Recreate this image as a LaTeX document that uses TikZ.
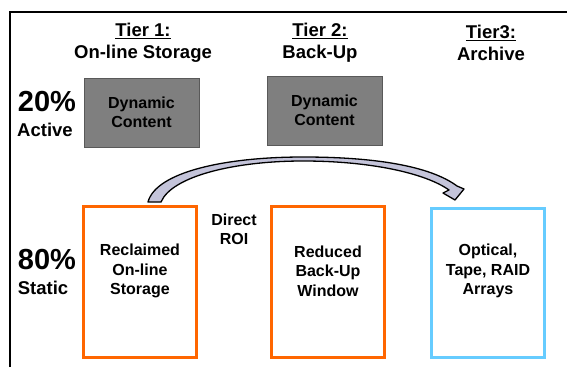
\documentclass[tikz,border=0pt]{standalone}
\usepackage{fontspec}
\setmainfont{Liberation Sans}
\usetikzlibrary{positioning}
\definecolor{dyngray}{HTML}{7F7F7F}
\definecolor{dynedge}{HTML}{595959}
\definecolor{statorange}{HTML}{FF6600}
\definecolor{archblue}{HTML}{66CCFF}
\definecolor{roifill}{HTML}{C4C4DA}
\begin{document}
\begin{tikzpicture}[x=1pt,y=-1pt,
        tierlbl/.style={font=\bfseries\fontsize{18.5}{22}\selectfont,align=center},
        pctlbl/.style={font=\bfseries\fontsize{29}{30}\selectfont},
        kindlbl/.style={font=\bfseries\fontsize{18.5}{20}\selectfont},
        boxlbl/.style={font=\bfseries\fontsize{16}{19.5}\selectfont,align=center},
        dynbox/.style={draw=dynedge,fill=dyngray,line width=1pt,minimum width=115,minimum height=69,inner sep=0pt},
        statbox/.style={draw=statorange,line width=3pt,minimum width=113,minimum height=151,inner sep=0pt},
        archbox/.style={draw=archblue,line width=3pt,minimum width=113,minimum height=149,inner sep=0pt}]

        \useasboundingbox (0,0) rectangle (567,367);
        \draw[line width=1.6pt] (10,367) -- (10,12) -- (567,12);

        \node[tierlbl] (tier1) at (143,43) {\underline{Tier 1:}\\On-line Storage};
        \node[tierlbl] (tier2) at (320,43) {\underline{Tier 2:}\\Back-Up};
        \node[tierlbl] (tier3) at (491,43) {\underline{Tier3:}\\Archive};

        \node[pctlbl] (act) at (47,102) {20\%};
        \node[kindlbl] (actlbl) at (45,130) {Active};
        \node[pctlbl] (stat) at (47,260) {80\%};
        \node[kindlbl] (statlbl) at (43,288) {Static};

        \node[dynbox] (dyn1) at (141.5,112.5) {};
        \node[dynbox] (dyn2) at (324.5,110.5) {};
        \node[boxlbl] (dyn1txt) at (dyn1.center) {Dynamic\\Content};
        \node[boxlbl] (dyn2txt) at (dyn2.center) {Dynamic\\Content};

        \node[statbox] (recl) at (140,282) {};
        \node[statbox] (redu) at (328,282) {};
        \node[archbox] (arch) at (488,283) {};
        \node[boxlbl] (recltxt) at (140,271) {Reclaimed\\On-line\\Storage};
        \node[boxlbl] (redutxt) at (328,271) {Reduced\\Back-Up\\Window};
        \node[boxlbl] (archtxt) at (488,271) {Optical,\\Tape, RAID\\Arrays};

        \node[boxlbl] (roi) at (234,229.5) {Direct\\ROI};

        \draw[line width=1.3pt,fill=roifill,line join=round]
            (148,202) .. controls (156,172) and (225,157) .. (303,157)
            .. controls (375,157) and (430,166) .. (457,186)
            -- (464,189) -- (455,200) -- (443,193) -- (449,190)
            .. controls (425,173) and (370,161) .. (303,161)
            .. controls (235,161) and (172,176) .. (161,202) -- cycle;
    \end{tikzpicture}
\end{document}
